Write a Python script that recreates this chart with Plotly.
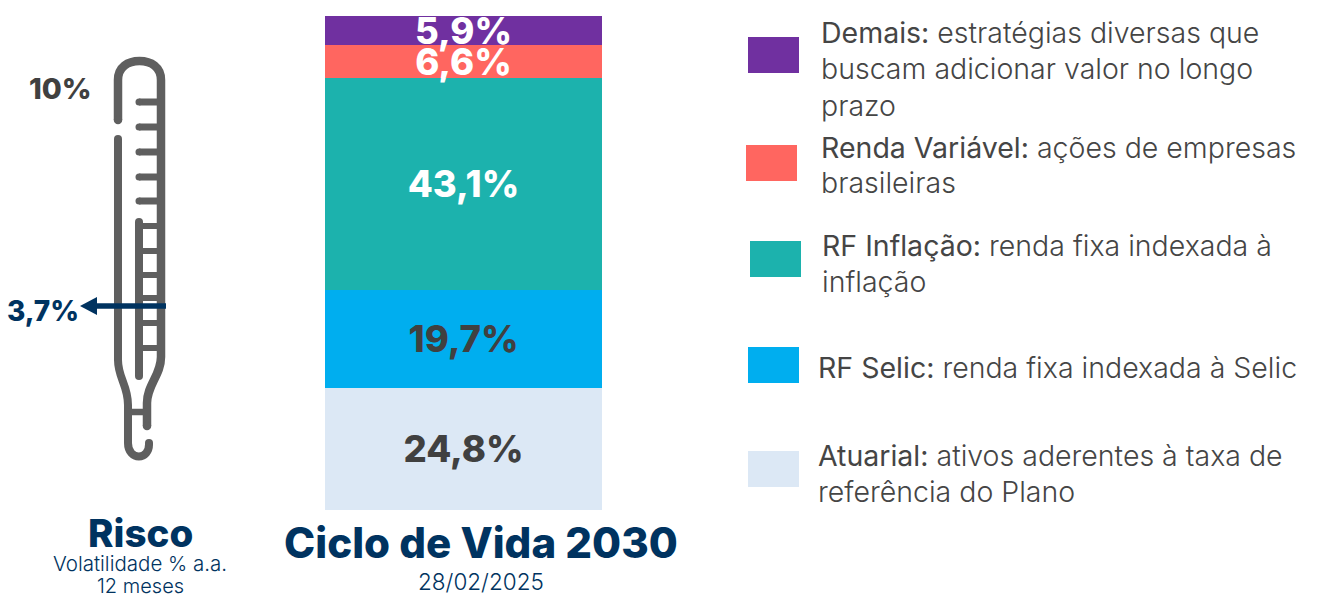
import plotly.graph_objects as go

W, H = 1319, 596
FONT = "Inter"
NAVY = "#003360"
DARK = "#404040"
GREY = "#5f5f5f"

categories = ["Atuarial", "RF Selic", "RF Inflação", "Renda Variável", "Demais"]
values = [24.8, 19.7, 43.1, 6.6, 5.9]
colors = ["#DCE8F5", "#00AEEF", "#1CB2AD", "#FF6660", "#7030A0"]
label_colors = [DARK, DARK, "#ffffff", "#ffffff", "#ffffff"]
risk_max_label = "10%"
risk_label = "3,7%"

legend_lines = [
    (821, 33, "Demais:", " estratégias diversas que"),
    (821, 69, "", "buscam adicionar valor no longo"),
    (821, 105, "", "prazo"),
    (821, 148, "Renda Variável:", " ações de empresas"),
    (821, 183, "", "brasileiras"),
    (822, 245, "RF Inflação:", " renda fixa indexada à"),
    (822, 281, "", "inflação"),
    (818, 367, "RF Selic:", " renda fixa indexada à Selic"),
    (818, 455, "Atuarial:", " ativos aderentes à taxa de"),
    (818, 491, "", "referência do Plano"),
]
swatches = [(748, 37, "#7030A0"), (746, 145, "#FF6660"), (750, 241, "#1CB2AD"),
            (748, 347, "#00AEEF"), (748, 451, "#DCE8F5")]


def fx(x):
    return x / W


def fy(y):
    return 1 - y / H


def pth(d):
    out = []
    for tok in d:
        if isinstance(tok, str):
            out.append(tok)
        else:
            out.append(f"{fx(tok[0]):.5f},{fy(tok[1]):.5f}")
    return " ".join(out)


fig = go.Figure()
for c, v, col, lc in zip(categories, values, colors, label_colors):
    fig.add_bar(x=[0], y=[v], name=c, marker=dict(color=col, line_width=0),
                text=[f"{v:.1f}%".replace(".", ",")], textposition="inside",
                insidetextanchor="middle", textangle=0, constraintext="none",
                textfont=dict(family=FONT, size=36.5, color=lc, weight=800),
                cliponaxis=False, hoverinfo="skip", showlegend=False)

shapes = []


def stroke(d, width=8, color=GREY, caps=()):
    shapes.append(dict(type="path", xref="paper", yref="paper", path=pth(d),
                       line=dict(color=color, width=width), fillcolor="rgba(0,0,0,0)", layer="below"))
    r = width / 2
    for x, y in caps:
        shapes.append(dict(type="circle", xref="paper", yref="paper", layer="below",
                           x0=fx(x - r), x1=fx(x + r), y0=fy(y + r), y1=fy(y - r),
                           fillcolor=color, line_width=0))


# thermometer outline
stroke(["M", (118, 120), "L", (118, 80), "C", (118, 67), (128, 61), (139.5, 61),
        "C", (151, 61), (161, 67), (161, 80),
        "L", (161, 357), "C", (161, 375), (147, 385), (147, 403), "L", (147, 426)],
       8.5, caps=[(118, 120), (147, 426)])
stroke(["M", (118, 139), "L", (118, 360), "C", (118, 378), (128, 385), (128, 405),
        "L", (128, 443), "C", (128, 461), (150, 461), (149, 443)],
       8, caps=[(118, 139), (149, 443)])
stroke(["M", (128, 412), "L", (147, 412)], 6.5)
stroke(["M", (139, 222), "L", (139, 376)], 8, caps=[(139, 222), (139, 376)])
for y in [102, 127, 152, 177, 201]:
    stroke(["M", (139, y), "L", (161, y)], 7, caps=[(139, y)])
for y in [226, 251, 275, 298, 323, 348]:
    stroke(["M", (139, y), "L", (161, y)], 6)
# arrow
stroke(["M", (96, 306), "L", (166, 306)], 5.5, NAVY)
shapes.append(dict(type="path", xref="paper", yref="paper",
                   path=pth(["M", (80, 306), "L", (97, 297), "L", (97, 315), "Z"]),
                   fillcolor=NAVY, line_width=0))
for x, y, col in swatches:
    shapes.append(dict(type="rect", xref="paper", yref="paper", x0=fx(x), x1=fx(x + 51),
                       y0=fy(y + 36), y1=fy(y), fillcolor=col, line_width=0))

ann = []


def text(x, y, s, size, color, anchor="center", weight=400):
    ann.append(dict(x=fx(x), y=fy(y), xref="paper", yref="paper", text=s, showarrow=False,
                    xanchor=anchor, yanchor="middle", align=anchor,
                    font=dict(family=FONT, size=size, color=color, weight=weight),
                    borderpad=0, borderwidth=0))


for x, y, lead, rest in legend_lines:
    if lead:
        s = f'<span style="font-weight:400">{lead}</span>' + rest.replace(" ", "\u00a0", 1)
    else:
        s = rest
    text(x, y, s, 28.5, "#454545", "left", 300)

text(60, 88, risk_max_label, 29, DARK, weight=800)
text(43, 311, risk_label, 28, NAVY, weight=800)
text(140, 533, "Risco", 38.5, NAVY, weight=800)
text(140, 563, "Volatilidade % a.a.", 20.5, NAVY, weight=300)
text(140, 586, "12 meses", 20, NAVY, weight=300)
text(481, 542, "Ciclo de Vida 2030", 42, NAVY, weight=800)
text(481, 581, "28/02/2025", 22.5, NAVY, weight=300)

fig.update_layout(
    width=W, height=H, margin=dict(l=0, r=0, t=0, b=0),
    paper_bgcolor="white", plot_bgcolor="white", barmode="stack", bargap=0,
    xaxis=dict(domain=[fx(325), fx(602)], range=[-0.5, 0.5], visible=False, fixedrange=True),
    yaxis=dict(domain=[fy(510), fy(16)], range=[0, sum(values)], visible=False, fixedrange=True),
    shapes=shapes, annotations=ann,
)
fig.write_html("out.html", config={"displayModeBar": False},
               post_script="document.body.style.margin='0';document.body.style.overflow='hidden';")
